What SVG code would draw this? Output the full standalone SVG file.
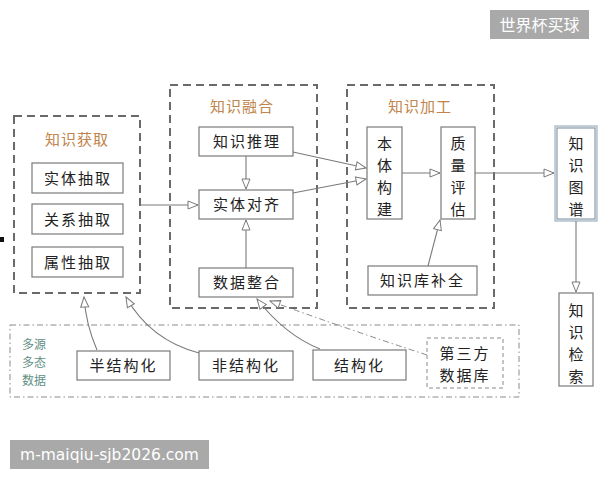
<svg xmlns="http://www.w3.org/2000/svg" width="600" height="480" viewBox="0 0 600 480">
<style>
text{font-family:"Noto Sans CJK SC","Noto Sans",sans-serif;}
.grp{fill:none;stroke:#6a6a6a;stroke-width:2;stroke-dasharray:8,5;}
.box{fill:#fff;stroke:#7a7a7a;stroke-width:1.2;}
.t{font-size:15px;fill:#222;text-anchor:middle;letter-spacing:2px;}
.title{font-size:15px;fill:#c0844c;text-anchor:middle;letter-spacing:1px;}
.ln{fill:none;stroke:#7a7a7a;stroke-width:1.1;marker-end:url(#ah);}
.dd{fill:none;stroke:#8a8a8a;stroke-width:1;stroke-dasharray:6,3,1.5,3;}
.wm{fill:#a9a9a9;}
.wt{fill:#fff;font-size:16px;}
.src{font-size:12px;fill:#5f8f86;text-anchor:middle;}
</style>
<defs>
<marker id="ah" viewBox="0 0 12 10" refX="11" refY="5" markerWidth="12" markerHeight="10" markerUnits="userSpaceOnUse" orient="auto">
<path d="M1,1 L11,5 L1,9 Z" fill="#fff" stroke="#7a7a7a" stroke-width="1"/>
</marker>
</defs>
<rect width="600" height="480" fill="#fff"/>

<g id="watermark-top"><rect class="wm" x="490" y="10" width="99" height="29"/><text class="wt" x="539.5" y="30.5" text-anchor="middle">世界杯买球</text></g>
<g id="watermark-bottom"><rect class="wm" x="10" y="440" width="199" height="29"/><text class="wt" x="109.5" y="460" text-anchor="middle" style="font-family:'DejaVu Sans',sans-serif;font-size:15.5px">m-maiqiu-sjb2026.com</text></g>
<rect x="0" y="237" width="4" height="5" fill="#111"/>

<g id="source-group">
<rect x="10" y="325" width="509" height="72" fill="none" stroke="#8a8a8a" stroke-width="1" stroke-dasharray="6,3,1.5,3"/>
<text class="src" x="34" y="349">多源</text>
<text class="src" x="34" y="367">多态</text>
<text class="src" x="34" y="385">数据</text>
</g>

<g id="acq">
<rect class="grp" x="14" y="116" width="126" height="177"/>
<text class="title" x="77" y="145">知识获取</text>
</g>
<g id="n-entity-extract"><rect class="box" x="32" y="163" width="91" height="30"/><text class="t" x="78" y="184">实体抽取</text></g>
<g id="n-relation-extract"><rect class="box" x="32" y="204" width="91" height="30"/><text class="t" x="78" y="225">关系抽取</text></g>
<g id="n-attr-extract"><rect class="box" x="32" y="247" width="91" height="30"/><text class="t" x="78" y="268">属性抽取</text></g>

<g id="fusion">
<rect class="grp" x="170" y="85" width="147" height="223"/>
<text class="title" x="242" y="112">知识融合</text>
</g>
<g id="n-reasoning"><rect class="box" x="199" y="127" width="94" height="29"/><text class="t" x="247" y="147">知识推理</text></g>
<g id="n-align"><rect class="box" x="199" y="190" width="94" height="29"/><text class="t" x="247" y="210">实体对齐</text></g>
<g id="n-integrate"><rect class="box" x="199" y="268" width="94" height="29"/><text class="t" x="247" y="288">数据整合</text></g>

<g id="proc">
<rect class="grp" x="347" y="85" width="147" height="223"/>
<text class="title" x="420" y="112">知识加工</text>
</g>
<g id="n-ontology"><rect class="box" x="367" y="127" width="35" height="92"/>
<text class="t" x="384.5" y="149" style="letter-spacing:0">本</text><text class="t" x="384.5" y="171" style="letter-spacing:0">体</text><text class="t" x="384.5" y="193" style="letter-spacing:0">构</text><text class="t" x="384.5" y="215" style="letter-spacing:0">建</text></g>
<g id="n-quality"><rect class="box" x="441" y="127" width="34" height="92"/>
<text class="t" x="458" y="149" style="letter-spacing:0">质</text><text class="t" x="458" y="171" style="letter-spacing:0">量</text><text class="t" x="458" y="193" style="letter-spacing:0">评</text><text class="t" x="458" y="215" style="letter-spacing:0">估</text></g>
<g id="n-complete"><rect class="box" x="368" y="266" width="109" height="29"/><text class="t" x="422.5" y="286">知识库补全</text></g>

<g id="n-kg"><rect x="555" y="126" width="42" height="95" fill="#eef3f7" stroke="#9fb2c2" stroke-width="1.2"/><rect x="557" y="128" width="38" height="91" fill="#fff" stroke="#7a8a98" stroke-width="1"/>
<text class="t" x="576" y="149" style="letter-spacing:0">知</text><text class="t" x="576" y="171" style="letter-spacing:0">识</text><text class="t" x="576" y="193" style="letter-spacing:0">图</text><text class="t" x="576" y="215" style="letter-spacing:0">谱</text></g>
<g id="n-retrieval"><rect class="box" x="559" y="293" width="34" height="93"/>
<text class="t" x="576" y="316" style="letter-spacing:0">知</text><text class="t" x="576" y="338" style="letter-spacing:0">识</text><text class="t" x="576" y="360" style="letter-spacing:0">检</text><text class="t" x="576" y="382" style="letter-spacing:0">索</text></g>

<g id="n-semi"><rect class="box" x="77" y="351" width="93" height="29"/><text class="t" x="123.5" y="371">半结构化</text></g>
<g id="n-unstruct"><rect class="box" x="199" y="351" width="94" height="29"/><text class="t" x="246" y="371">非结构化</text></g>
<g id="n-struct"><rect class="box" x="313" y="350" width="93" height="30"/><text class="t" x="359.5" y="371">结构化</text></g>
<g id="n-third"><rect x="427" y="338" width="76" height="50" fill="#fff" stroke="#8a8a8a" stroke-width="1" stroke-dasharray="4,3"/>
<text class="t" x="465" y="359">第三方</text><text class="t" x="465" y="381">数据库</text></g>

<g id="connectors">
<path class="ln" d="M140,205 L198,205"/>
<path class="ln" d="M246,156 L246,189"/>
<path class="ln" d="M246,268 L246,220"/>
<path class="ln" d="M293,152 L366,168"/>
<path class="ln" d="M293,193 L366,179"/>
<path class="ln" d="M402,173 L440,173"/>
<path class="ln" d="M428,266 L440,220"/>
<path class="ln" d="M475,173 L554,173"/>
<path class="ln" d="M576,221 L576,292"/>
<path class="ln" d="M97,350 Q86,325 84,297"/>
<path class="ln" d="M199,353 Q150,340 126,297"/>
<path class="ln" d="M320,349 Q285,335 257,299"/>
<path class="dd" d="M427,355 Q350,330 270,301" marker-end="url(#ah)"/>
</g>
</svg>
